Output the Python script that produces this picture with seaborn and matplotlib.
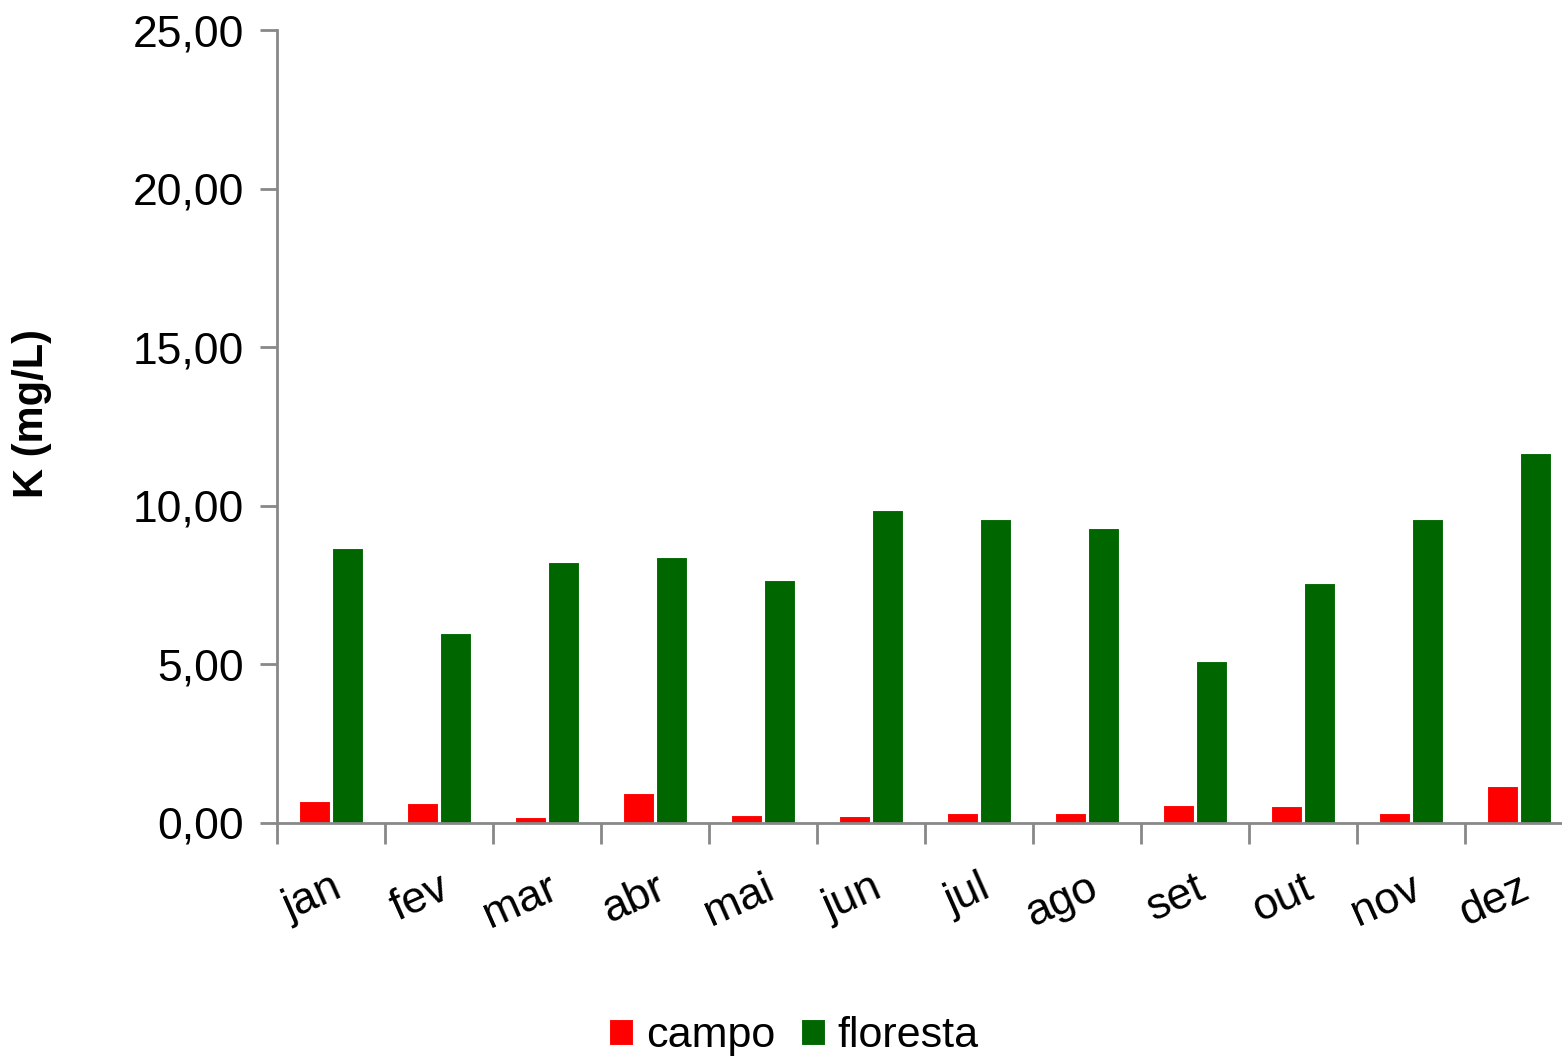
import matplotlib
matplotlib.use("Agg")
import matplotlib.pyplot as plt
import seaborn as sns
import pandas as pd

months = ["jan", "fev", "mar", "abr", "mai", "jun", "jul", "ago", "set", "out", "nov", "dez"]
campo = [0.70, 0.63, 0.20, 0.96, 0.24, 0.22, 0.33, 0.32, 0.58, 0.55, 0.32, 1.18]
floresta = [8.67, 5.99, 8.23, 8.39, 7.66, 9.87, 9.58, 9.30, 5.11, 7.57, 9.58, 11.66]
series_names = ["campo", "floresta"]
series_colors = ["#FF0000", "#006600"]
y_ticks = [0, 5, 10, 15, 20, 25]

df = pd.DataFrame({
    "mes": months * 2,
    "serie": [series_names[0]] * len(months) + [series_names[1]] * len(months),
    "valor": campo + floresta,
})

sns.set_theme(style="white")
plt.rcParams["font.family"] = ["Liberation Sans", "DejaVu Sans"]
plt.rcParams["text.color"] = "black"
plt.rcParams["xtick.color"] = "black"
plt.rcParams["ytick.color"] = "black"
plt.rcParams["axes.labelcolor"] = "black"

fig = plt.figure(figsize=(15.62, 10.58), dpi=100)
ax = fig.add_axes([277 / 1562, 1 - 823 / 1058, (1573 - 277) / 1562, (823 - 30) / 1058])

sns.barplot(data=df, x="mes", y="valor", hue="serie", order=months,
            hue_order=series_names, palette=series_colors, saturation=1,
            width=0.62, gap=0.06, edgecolor="white", linewidth=0.8,
            errorbar=None, ax=ax, legend=True)

ax.set_xlim(-0.5, len(months) - 0.5)
ax.set_ylim(0, 25)
ax.set_yticks(y_ticks)
ax.set_yticklabels([f"{v:.2f}".replace(".", ",") for v in y_ticks], fontsize=32)

# category boundaries carry the ticks, labels sit at category centres
ax.set_xticks([i - 0.5 for i in range(len(months) + 1)], minor=False)
ax.set_xticklabels([])
ax.set_xticks(range(len(months)), minor=True)
ax.set_xticklabels(months, minor=True, fontsize=32, rotation=24,
                   ha="right", va="top", rotation_mode="anchor")
ax.tick_params(axis="x", which="minor", length=0, pad=32)
ax.tick_params(axis="x", which="major", length=15, width=2, color="#888888",
               direction="out", bottom=True)
ax.tick_params(axis="y", length=12, width=2, color="#888888", direction="out",
               pad=12, left=True)

for side in ["top", "right"]:
    ax.spines[side].set_visible(False)
for side in ["left", "bottom"]:
    ax.spines[side].set_color("#888888")
    ax.spines[side].set_linewidth(2)

ax.set_xlabel("")
ax.set_ylabel("K (mg/L)", fontsize=30, fontweight="bold")
ax.yaxis.set_label_coords((52 - 277) / 1296, (823 - 413) / 793)

handles, labels = ax.get_legend_handles_labels()
ax.legend_.remove()
fig.legend(handles, labels, loc="center", bbox_to_anchor=(794 / 1562, 1 - 1036 / 1058),
           ncol=2, frameon=False, fontsize=31, handlelength=0.55, handleheight=0.55,
           handletextpad=0.3, columnspacing=0.6)

fig.savefig("out.png", dpi=100)
